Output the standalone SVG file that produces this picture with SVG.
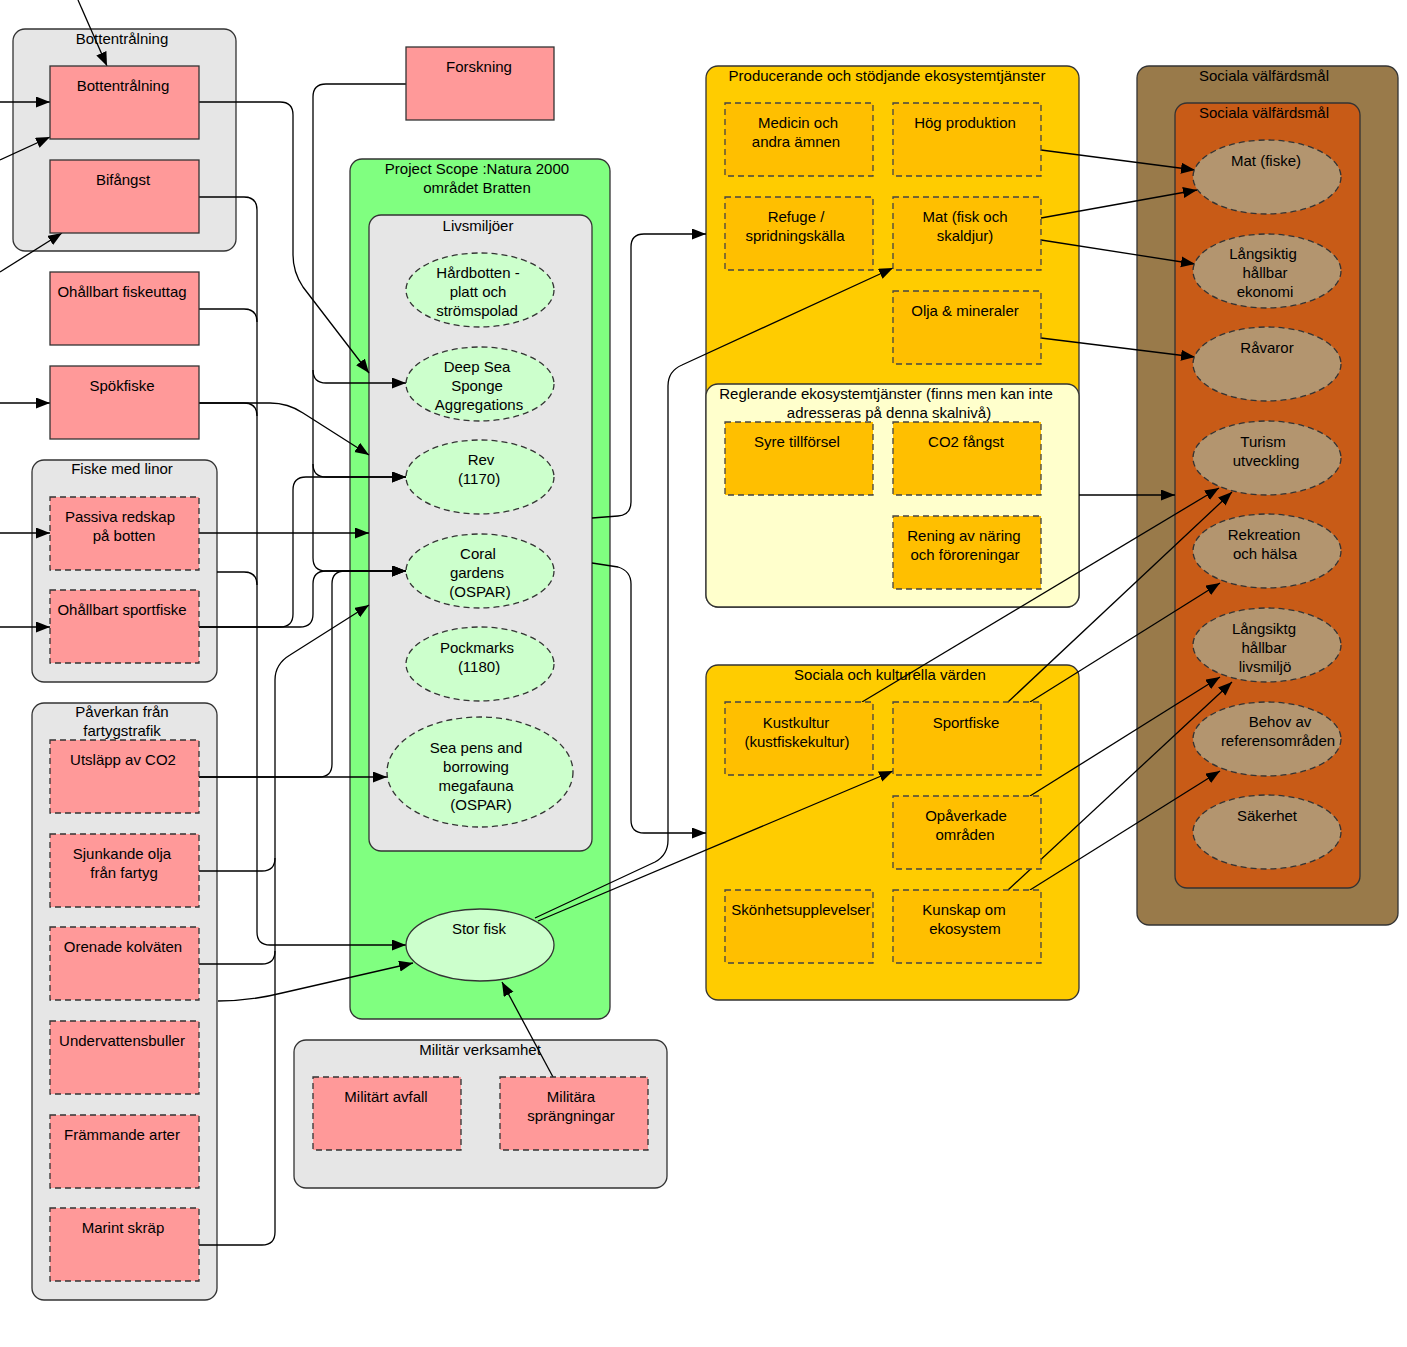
<svg xmlns="http://www.w3.org/2000/svg" width="1407" height="1347" viewBox="0 0 1407 1347">
<defs>
<marker id="arr" markerUnits="userSpaceOnUse" markerWidth="15" markerHeight="12" refX="14" refY="5.5" orient="auto">
<path d="M0,0 L14,5.5 L0,11 z" fill="#000"/>
</marker>
<style>
text{font-family:"Liberation Sans",Arial,sans-serif;font-size:15px;fill:#000;text-anchor:middle;transform:translateY(1px)}
.grp{fill:#e6e6e6;stroke:#333;stroke-width:1.3}
.pink{fill:#ff9999;stroke:#333;stroke-width:1.3}
.pinkd{fill:#ff9999;stroke:#333;stroke-width:1.3;stroke-dasharray:6 4}
.green{fill:#80ff80;stroke:#333;stroke-width:1.3}
.ell{fill:#ccffcc;stroke:#333;stroke-width:1.3;stroke-dasharray:6 4}
.ells{fill:#ccffcc;stroke:#333;stroke-width:1.3}
.yel{fill:#ffcc00;stroke:#333;stroke-width:1.3}
.lyel{fill:#ffffcc;stroke:#333;stroke-width:1.3}
.ybox{fill:#ffbf00;stroke:#444;stroke-width:1.3;stroke-dasharray:6 4}
.brown{fill:#997a4a;stroke:#333;stroke-width:1.3}
.rust{fill:#c85b17;stroke:#333;stroke-width:1.3}
.tan{fill:#b3956f;stroke:#333;stroke-width:1.3;stroke-dasharray:6 4}
.c{fill:none;stroke:#000;stroke-width:1.3}
.a{marker-end:url(#arr)}
</style>
</defs>
<rect width="1407" height="1347" fill="#fff"/>

<!-- containers -->
<g id="g-bottentralning"><rect class="grp" x="13" y="29" width="223" height="222" rx="12"/><text x="122" y="43">Bottentrålning</text></g>
<g id="g-fiske-linor"><rect class="grp" x="32" y="460" width="185" height="222" rx="12"/><text x="122" y="473">Fiske med linor</text></g>
<g id="g-paverkan"><rect class="grp" x="32" y="703" width="185" height="597" rx="12"/><text x="122" y="716">Påverkan från</text><text x="122" y="735">fartygstrafik</text></g>
<g id="g-scope"><rect class="green" x="350" y="159" width="260" height="860" rx="12"/><text x="477" y="173">Project Scope :Natura 2000</text><text x="477" y="192">området Bratten</text></g>
<g id="g-livsmiljoer"><rect class="grp" x="369" y="215" width="223" height="636" rx="12"/><text x="478" y="230">Livsmiljöer</text></g>
<g id="g-militar"><rect class="grp" x="294" y="1040" width="373" height="148" rx="12"/><text x="480" y="1054">Militär verksamhet</text></g>
<g id="g-producerande"><rect class="yel" x="706" y="66" width="373" height="541" rx="12"/><text x="887" y="80">Producerande och stödjande ekosystemtjänster</text></g>
<g id="g-reglerande"><rect class="lyel" x="706" y="384" width="373" height="223" rx="12"/><text x="886" y="398">Reglerande ekosystemtjänster (finns men kan inte</text><text x="889" y="417">adresseras på denna skalnivå)</text></g>
<g id="g-sociala-kulturella"><rect class="yel" x="706" y="665" width="373" height="335" rx="12"/><text x="890" y="679">Sociala och kulturella värden</text></g>
<g id="g-valfard-outer"><rect class="brown" x="1137" y="66" width="261" height="859" rx="12"/><text x="1264" y="80">Sociala välfärdsmål</text></g>
<g id="g-valfard-inner"><rect class="rust" x="1175" y="103" width="185" height="785" rx="12"/><text x="1264" y="117">Sociala välfärdsmål</text></g>

<!-- connectors -->
<g id="connectors">
<path class="c a" d="M78,0 L107,66"/>
<path class="c a" d="M0,102 H50"/>
<path class="c a" d="M0,160 L50,137"/>
<path class="c a" d="M0,272 L62,233"/>
<path class="c a" d="M0,403 H50"/>
<path class="c a" d="M0,533 H50"/>
<path class="c a" d="M0,627 H50"/>

<path class="c a" d="M199,102 H280 Q293,102 293,115 V255 Q293,272 303,287 L369,373"/>
<path class="c a" d="M406,84 H326 Q313,84 313,97 V370 Q313,383 326,383 H406"/>
<path class="c a" d="M313,370 V464 Q313,477 326,477 H406"/>
<path class="c a" d="M313,464 V558 Q313,571 326,571 H406"/>

<path class="c a" d="M199,403 H270 Q288,403 303,413 L369,455"/>
<path class="c a" d="M199,533 H369"/>
<path class="c a" d="M199,627 H280 Q293,627 293,614 V490 Q293,477 306,477 H406"/>
<path class="c a" d="M199,627 H300 Q313,627 313,614 V584 Q313,571 326,571 H406"/>
<path class="c a" d="M199,777 H387"/>
<path class="c a" d="M199,777 H319 Q332,777 332,764 V584 Q332,571 345,571 H406"/>

<path class="c a" d="M199,197 H244 Q257,197 257,210 V932 Q257,945 270,945 H406"/>
<path class="c" d="M199,309 H244 Q257,309 257,322"/>
<path class="c" d="M199,403 H244 Q257,403 257,416"/>
<path class="c" d="M217,572 H244 Q257,572 257,585"/>

<path class="c a" d="M275,1232 V680 Q275,664 290,655 L369,605"/>
<path class="c" d="M199,871 H262 Q275,871 275,858"/>
<path class="c" d="M199,964 H262 Q275,964 275,951"/>
<path class="c" d="M199,1245 H262 Q275,1245 275,1232"/>
<path class="c a" d="M218,1001 Q250,1001 282,993 L413,963"/>

<path class="c a" d="M592,518 L618,516 Q631,515 631,502 V247 Q631,234 644,234 H706"/>
<path class="c a" d="M592,563 L618,567 Q631,571 631,584 V820 Q631,833 644,833 H706"/>
<path class="c a" d="M535,918 L655,862 Q668,855 668,840 V386 Q668,371 682,365 L893,268"/>
<path class="c a" d="M538,921 L893,771"/>
<path class="c a" d="M553,1077 L502,982"/>

<path class="c a" d="M1041,150 L1195,170"/>
<path class="c a" d="M1041,218 L1197,190"/>
<path class="c a" d="M1041,240 L1195,264"/>
<path class="c a" d="M1041,338 L1195,357"/>
<path class="c a" d="M1079,495 H1175"/>
<path class="c a" d="M862,702 L1219,488"/>
<path class="c a" d="M1008,702 L1232,492"/>
<path class="c a" d="M1030,702 L1220,583"/>
<path class="c a" d="M1030,796 L1220,677"/>
<path class="c a" d="M1008,890 L1232,682"/>
<path class="c a" d="M1030,890 L1220,771"/>
</g>

<!-- left pressure nodes -->
<g id="n-bottentralning"><rect class="pink" x="50" y="66" width="149" height="73"/><text x="123" y="90">Bottentrålning</text></g>
<g id="n-bifangst"><rect class="pink" x="50" y="160" width="149" height="73"/><text x="123" y="184">Bifångst</text></g>
<g id="n-ohallbart-fiskeuttag"><rect class="pink" x="50" y="272" width="149" height="73"/><text x="122" y="296">Ohållbart fiskeuttag</text></g>
<g id="n-spokfiske"><rect class="pink" x="50" y="366" width="149" height="73"/><text x="122" y="390">Spökfiske</text></g>
<g id="n-passiva"><rect class="pinkd" x="50" y="497" width="149" height="73"/><text x="120" y="521">Passiva redskap</text><text x="124" y="540">på botten</text></g>
<g id="n-ohallbart-sportfiske"><rect class="pinkd" x="50" y="590" width="149" height="73"/><text x="122" y="614">Ohållbart sportfiske</text></g>
<g id="n-utslapp"><rect class="pinkd" x="50" y="740" width="149" height="73"/><text x="123" y="764">Utsläpp av CO2</text></g>
<g id="n-sjunkande"><rect class="pinkd" x="50" y="834" width="149" height="73"/><text x="122" y="858">Sjunkande olja</text><text x="124" y="877">från fartyg</text></g>
<g id="n-orenade"><rect class="pinkd" x="50" y="927" width="149" height="73"/><text x="123" y="951">Orenade kolväten</text></g>
<g id="n-undervattensbuller"><rect class="pinkd" x="50" y="1021" width="149" height="73"/><text x="122" y="1045">Undervattensbuller</text></g>
<g id="n-frammande"><rect class="pinkd" x="50" y="1115" width="149" height="73"/><text x="122" y="1139">Främmande arter</text></g>
<g id="n-marint"><rect class="pinkd" x="50" y="1208" width="149" height="73"/><text x="123" y="1232">Marint skräp</text></g>
<g id="n-forskning"><rect class="pink" x="406" y="47" width="148" height="73"/><text x="479" y="71">Forskning</text></g>
<g id="n-militart-avfall"><rect class="pinkd" x="313" y="1077" width="148" height="73"/><text x="386" y="1101">Militärt avfall</text></g>
<g id="n-militara-sprangningar"><rect class="pinkd" x="500" y="1077" width="148" height="73"/><text x="571" y="1101">Militära</text><text x="571" y="1120">sprängningar</text></g>

<!-- habitats -->
<g id="n-hardbotten"><ellipse class="ell" cx="480" cy="290" rx="74" ry="37"/><text x="478" y="277">Hårdbotten -</text><text x="478" y="296">platt och</text><text x="477" y="315">strömspolad</text></g>
<g id="n-deepsea"><ellipse class="ell" cx="480" cy="384" rx="74" ry="37"/><text x="477" y="371">Deep Sea</text><text x="477" y="390">Sponge</text><text x="479" y="409">Aggregations</text></g>
<g id="n-rev"><ellipse class="ell" cx="480" cy="477" rx="74" ry="37"/><text x="481" y="464">Rev</text><text x="479" y="483">(1170)</text></g>
<g id="n-coral"><ellipse class="ell" cx="480" cy="571" rx="74" ry="37"/><text x="478" y="558">Coral</text><text x="477" y="577">gardens</text><text x="480" y="596">(OSPAR)</text></g>
<g id="n-pockmarks"><ellipse class="ell" cx="480" cy="664" rx="74" ry="37"/><text x="477" y="652">Pockmarks</text><text x="479" y="671">(1180)</text></g>
<g id="n-seapens"><ellipse class="ell" cx="480" cy="772" rx="93" ry="55"/><text x="476" y="752">Sea pens and</text><text x="476" y="771">borrowing</text><text x="476" y="790">megafauna</text><text x="481" y="809">(OSPAR)</text></g>
<g id="n-storfisk"><ellipse class="ells" cx="480" cy="945" rx="74" ry="36"/><text x="479" y="933">Stor fisk</text></g>

<!-- ecosystem services -->
<g id="n-medicin"><rect class="ybox" x="725" y="103" width="148" height="73"/><text x="798" y="127">Medicin och</text><text x="796" y="146">andra ämnen</text></g>
<g id="n-hog-produktion"><rect class="ybox" x="893" y="103" width="148" height="73"/><text x="965" y="127">Hög produktion</text></g>
<g id="n-refuge"><rect class="ybox" x="725" y="197" width="148" height="73"/><text x="796" y="221">Refuge /</text><text x="795" y="240">spridningskälla</text></g>
<g id="n-mat-fisk"><rect class="ybox" x="893" y="197" width="148" height="73"/><text x="965" y="221">Mat (fisk och</text><text x="965" y="240">skaldjur)</text></g>
<g id="n-olja"><rect class="ybox" x="893" y="291" width="148" height="73"/><text x="965" y="315">Olja &amp; mineraler</text></g>
<g id="n-syre"><rect class="ybox" x="725" y="422" width="148" height="73"/><text x="797" y="446">Syre tillförsel</text></g>
<g id="n-co2"><rect class="ybox" x="893" y="422" width="148" height="73"/><text x="966" y="446">CO2 fångst</text></g>
<g id="n-rening"><rect class="ybox" x="893" y="516" width="148" height="73"/><text x="964" y="540">Rening av näring</text><text x="965" y="559">och föroreningar</text></g>
<g id="n-kustkultur"><rect class="ybox" x="725" y="702" width="148" height="73"/><text x="796" y="727">Kustkultur</text><text x="797" y="746">(kustfiskekultur)</text></g>
<g id="n-sportfiske"><rect class="ybox" x="893" y="702" width="148" height="73"/><text x="966" y="727">Sportfiske</text></g>
<g id="n-opaverkade"><rect class="ybox" x="893" y="796" width="148" height="73"/><text x="966" y="820">Opåverkade</text><text x="965" y="839">områden</text></g>
<g id="n-skonhet"><rect class="ybox" x="725" y="890" width="148" height="73"/><text x="801" y="914">Skönhetsupplevelser</text></g>
<g id="n-kunskap"><rect class="ybox" x="893" y="890" width="148" height="73"/><text x="964" y="914">Kunskap om</text><text x="965" y="933">ekosystem</text></g>

<!-- welfare goals -->
<g id="n-mat-fiske"><ellipse class="tan" cx="1267" cy="177" rx="74" ry="37"/><text x="1266" y="165">Mat (fiske)</text></g>
<g id="n-ekonomi"><ellipse class="tan" cx="1267" cy="271" rx="74" ry="37"/><text x="1263" y="258">Långsiktig</text><text x="1265" y="277">hållbar</text><text x="1265" y="296">ekonomi</text></g>
<g id="n-ravaror"><ellipse class="tan" cx="1267" cy="364" rx="74" ry="37"/><text x="1267" y="352">Råvaror</text></g>
<g id="n-turism"><ellipse class="tan" cx="1267" cy="458" rx="74" ry="37"/><text x="1263" y="446">Turism</text><text x="1266" y="465">utveckling</text></g>
<g id="n-rekreation"><ellipse class="tan" cx="1267" cy="551" rx="74" ry="37"/><text x="1264" y="539">Rekreation</text><text x="1265" y="558">och hälsa</text></g>
<g id="n-livsmiljo"><ellipse class="tan" cx="1267" cy="645" rx="74" ry="37"/><text x="1264" y="633">Långsiktg</text><text x="1264" y="652">hållbar</text><text x="1265" y="671">livsmiljö</text></g>
<g id="n-behov"><ellipse class="tan" cx="1267" cy="739" rx="74" ry="37"/><text x="1280" y="726">Behov av</text><text x="1278" y="745">referensområden</text></g>
<g id="n-sakerhet"><ellipse class="tan" cx="1267" cy="832" rx="74" ry="37"/><text x="1267" y="820">Säkerhet</text></g>
</svg>
